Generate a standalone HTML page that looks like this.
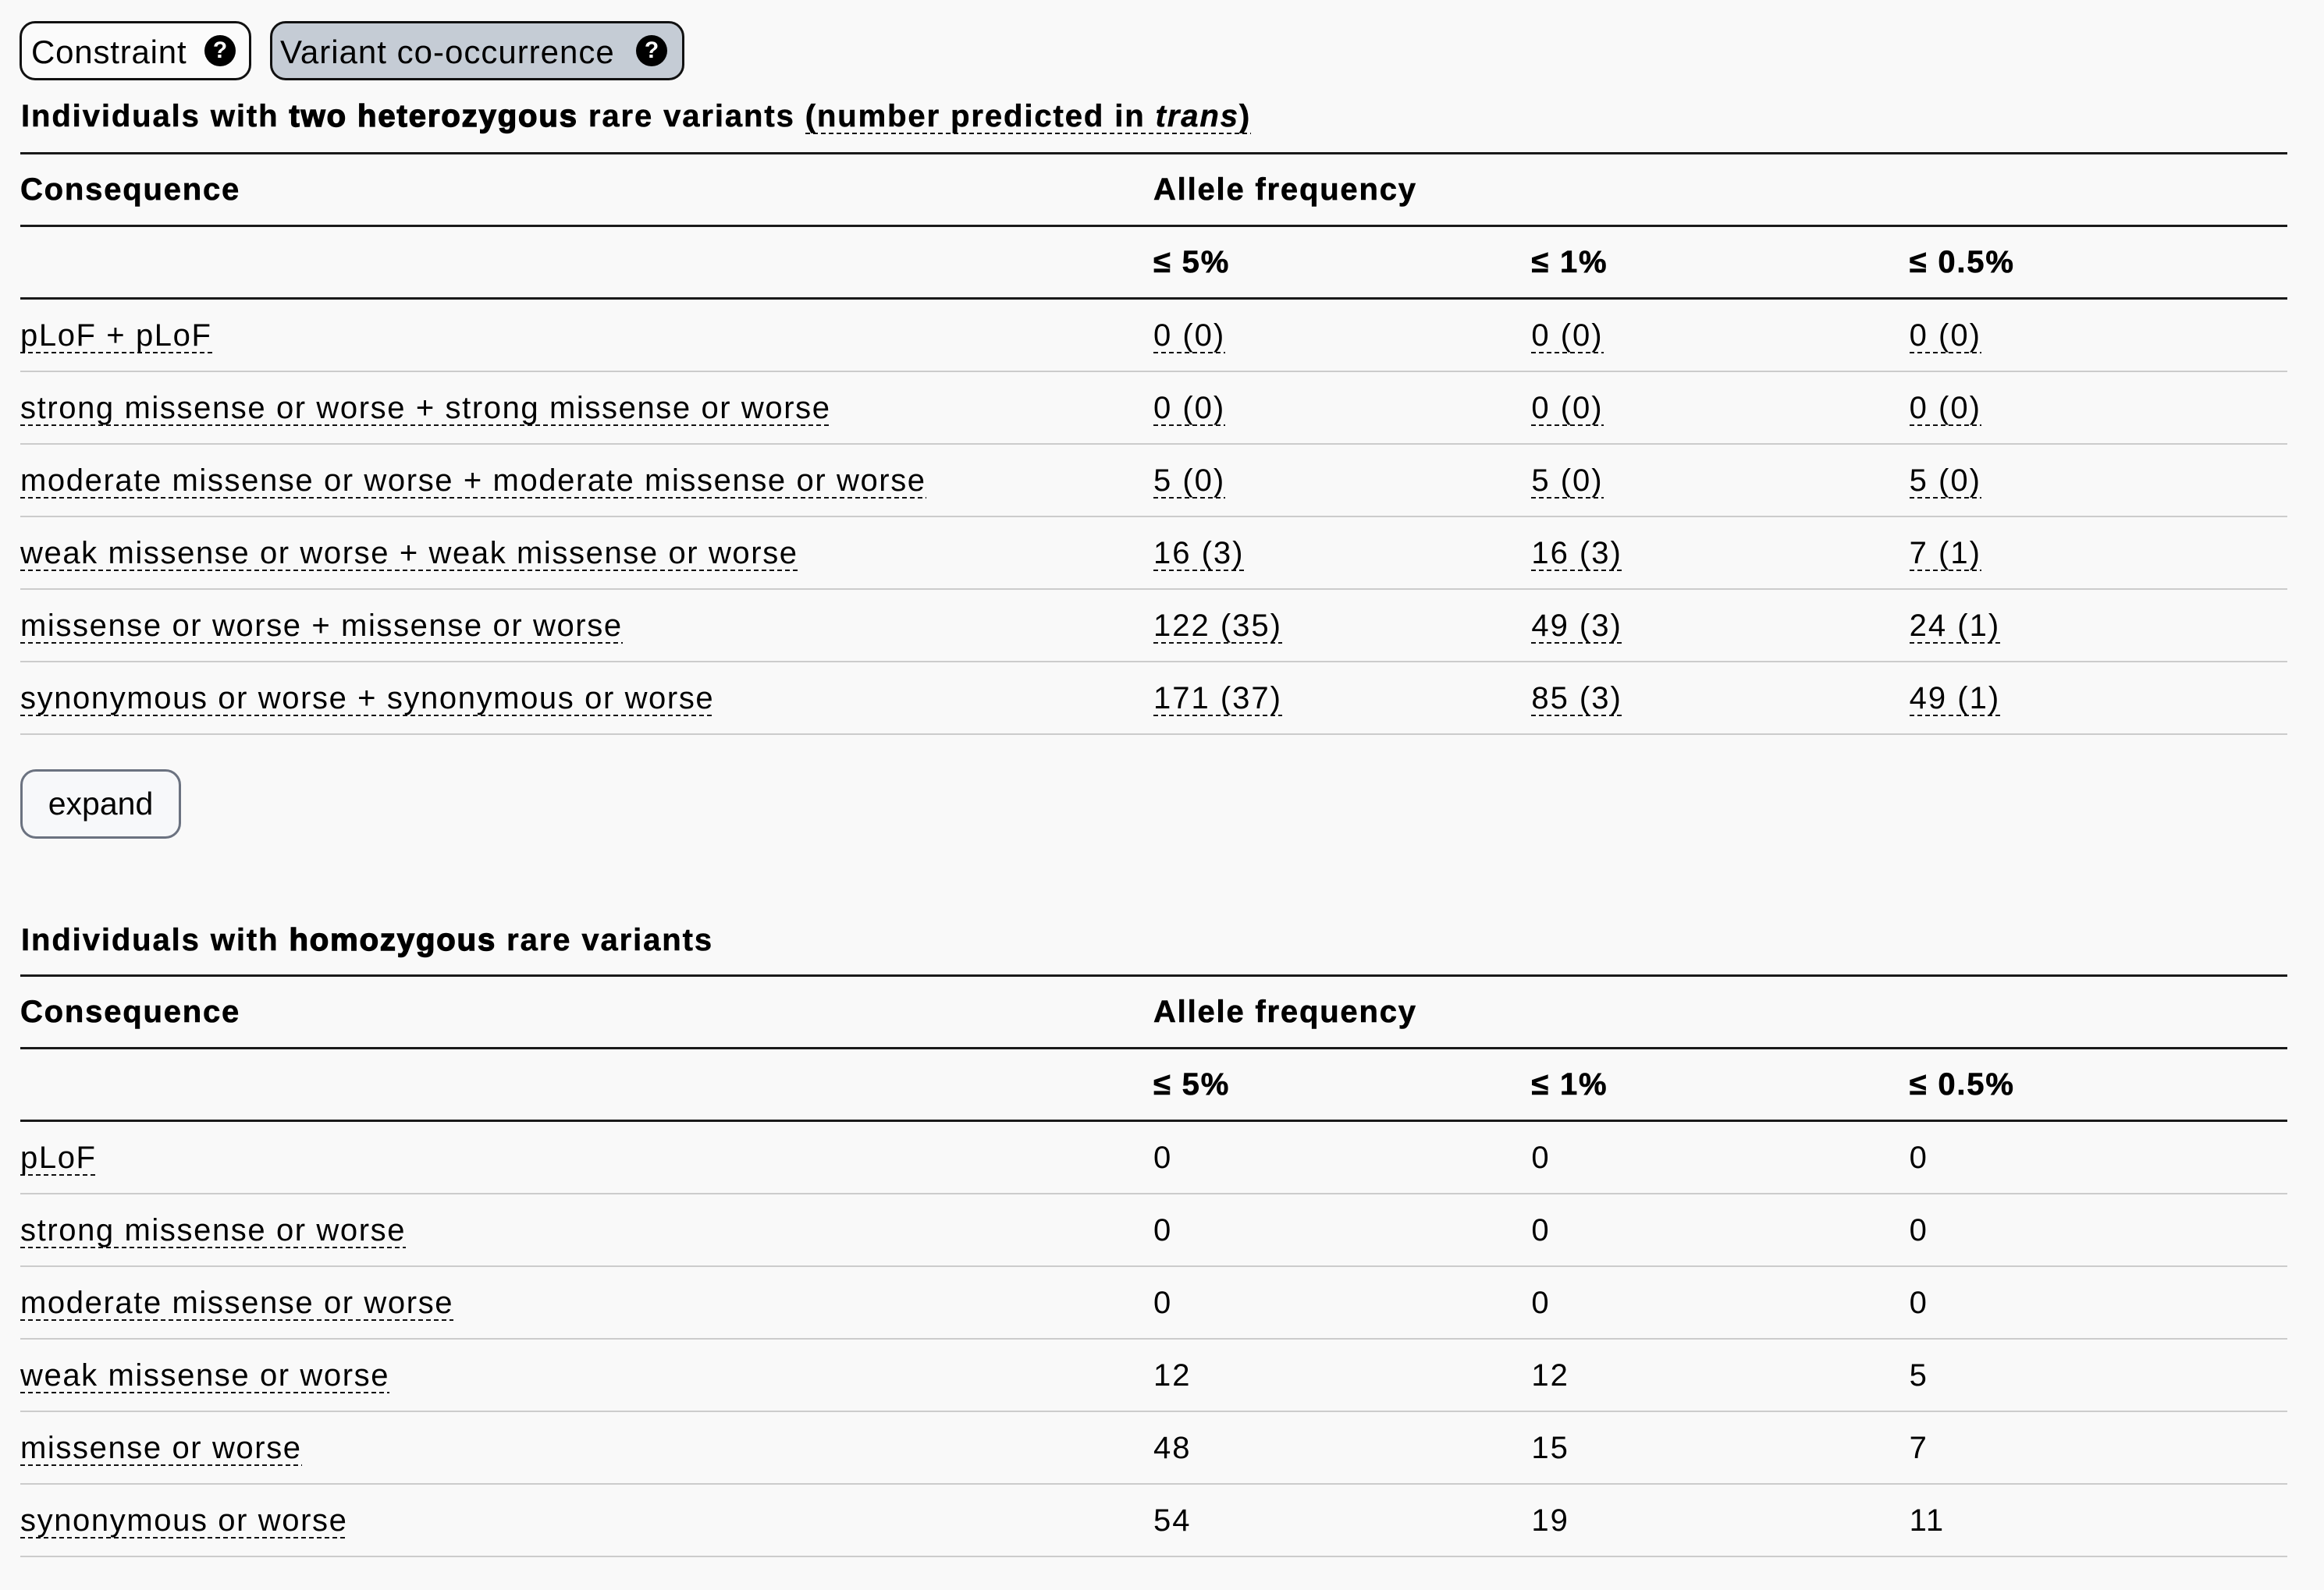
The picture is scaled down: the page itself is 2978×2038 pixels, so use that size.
<!DOCTYPE html>
<html>
<head>
<meta charset="utf-8">
<style>
  html, body { margin:0; padding:0; }
  body {
    width:2978px; height:2038px; position:relative; overflow:hidden;
    background:#f9f9f9; color:#000;
    font-family:"Liberation Sans", Arial, sans-serif;
  }
  .btn {
    position:absolute; top:27px; height:76px; box-sizing:border-box;
    border:3px solid #111; border-radius:20px;
  }
  .btxt {
    position:absolute; top:43px; font-size:42px; line-height:48px; white-space:nowrap;
  }
  .q {
    position:absolute; top:45px; width:40px; height:40px; border-radius:50%;
    background:#000; color:#fff; font-weight:bold; font-size:30px; line-height:40px;
    text-align:center;
  }
  .h {
    position:absolute; left:27px; font-size:40px; line-height:46px; font-weight:bold;
    letter-spacing:1.9px; white-space:nowrap; -webkit-text-stroke:0.5px #000;
  }
  .h .x { -webkit-text-stroke:1.4px #000; }
  .u {
    background-image:repeating-linear-gradient(to right, #111 0 6px, transparent 6px 10px);
    background-size:100% 2px; background-repeat:no-repeat; background-position:0 100%;
    padding-bottom:1px;
  }
  .h .u { -webkit-text-stroke:0.5px #000; }
  .tbl {
    position:absolute; left:26px; width:2905px; border-top:3px solid #1a1a1a;
  }
  .row {
    display:flex; align-items:center; height:93px; box-sizing:border-box;
    border-bottom:2px solid #cccccc; font-size:40px; line-height:46px; white-space:nowrap;
  }
  .row.hdr { border-bottom:3px solid #1a1a1a; font-weight:bold; -webkit-text-stroke:0.6px #000; }
  .c1 { width:1452px; flex:none; letter-spacing:1.6px; }
  .c { width:484.33px; flex:none; letter-spacing:2px; }
  .hdr .c1, .hdr .c { letter-spacing:1.8px; }
  .exp {
    position:absolute; left:26px; top:986px; width:206px; height:89px; box-sizing:border-box;
    border:3px solid #6b7280; border-radius:20px; background:#f7f8fa;
    font-size:41px; line-height:83px; text-align:center;
  }
</style>
</head>
<body>

<div class="btn" style="left:25px;width:297px;background:#fbfbfb;"></div>
<div class="btxt" style="left:40px;letter-spacing:0.8px;">Constraint</div>
<div class="q" style="left:262px;">?</div>

<div class="btn" style="left:346px;width:531px;background:#c5ccd5;"></div>
<div class="btxt" style="left:359px;letter-spacing:1px;">Variant co-occurrence</div>
<div class="q" style="left:815px;">?</div>

<div class="h" style="top:126px;">Individuals with <span class="x">two heterozygous</span> rare variants <span class="u">(number predicted in <i>trans</i>)</span></div>

<div class="tbl" style="top:195px;">
  <div class="row hdr"><div class="c1">Consequence</div><div class="c" style="width:1453px;">Allele frequency</div></div>
  <div class="row hdr"><div class="c1"></div><div class="c">≤ 5%</div><div class="c">≤ 1%</div><div class="c">≤ 0.5%</div></div>
  <div class="row"><div class="c1"><span class="u">pLoF + pLoF</span></div><div class="c"><span class="u">0 (0)</span></div><div class="c"><span class="u">0 (0)</span></div><div class="c"><span class="u">0 (0)</span></div></div>
  <div class="row"><div class="c1"><span class="u">strong missense or worse + strong missense or worse</span></div><div class="c"><span class="u">0 (0)</span></div><div class="c"><span class="u">0 (0)</span></div><div class="c"><span class="u">0 (0)</span></div></div>
  <div class="row"><div class="c1"><span class="u">moderate missense or worse + moderate missense or worse</span></div><div class="c"><span class="u">5 (0)</span></div><div class="c"><span class="u">5 (0)</span></div><div class="c"><span class="u">5 (0)</span></div></div>
  <div class="row"><div class="c1"><span class="u">weak missense or worse + weak missense or worse</span></div><div class="c"><span class="u">16 (3)</span></div><div class="c"><span class="u">16 (3)</span></div><div class="c"><span class="u">7 (1)</span></div></div>
  <div class="row"><div class="c1"><span class="u">missense or worse + missense or worse</span></div><div class="c"><span class="u">122 (35)</span></div><div class="c"><span class="u">49 (3)</span></div><div class="c"><span class="u">24 (1)</span></div></div>
  <div class="row"><div class="c1"><span class="u">synonymous or worse + synonymous or worse</span></div><div class="c"><span class="u">171 (37)</span></div><div class="c"><span class="u">85 (3)</span></div><div class="c"><span class="u">49 (1)</span></div></div>
</div>

<div class="exp">expand</div>

<div class="h" style="top:1182px;">Individuals with <span class="x">homozygous</span> rare variants</div>

<div class="tbl" style="top:1249px;">
  <div class="row hdr"><div class="c1">Consequence</div><div class="c" style="width:1453px;">Allele frequency</div></div>
  <div class="row hdr"><div class="c1"></div><div class="c">≤ 5%</div><div class="c">≤ 1%</div><div class="c">≤ 0.5%</div></div>
  <div class="row"><div class="c1"><span class="u">pLoF</span></div><div class="c">0</div><div class="c">0</div><div class="c">0</div></div>
  <div class="row"><div class="c1"><span class="u">strong missense or worse</span></div><div class="c">0</div><div class="c">0</div><div class="c">0</div></div>
  <div class="row"><div class="c1"><span class="u">moderate missense or worse</span></div><div class="c">0</div><div class="c">0</div><div class="c">0</div></div>
  <div class="row"><div class="c1"><span class="u">weak missense or worse</span></div><div class="c">12</div><div class="c">12</div><div class="c">5</div></div>
  <div class="row"><div class="c1"><span class="u">missense or worse</span></div><div class="c">48</div><div class="c">15</div><div class="c">7</div></div>
  <div class="row"><div class="c1"><span class="u">synonymous or worse</span></div><div class="c">54</div><div class="c">19</div><div class="c">11</div></div>
</div>

</body>
</html>
